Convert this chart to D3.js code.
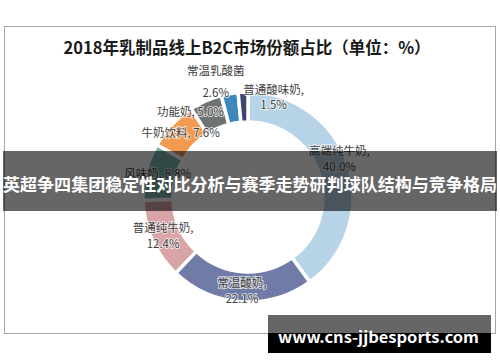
<!DOCTYPE html>
<html>
<head>
<meta charset="utf-8">
<script src="https://cdn.jsdelivr.net/npm/d3@7"></script>
<style>
  body { margin: 0; background: #fff; }
  text { font-family: "Noto Sans CJK SC", "Noto Sans", sans-serif; }
</style>
</head>
<body>
<svg id="canvas" width="500" height="362"></svg>
<script>
// data
let categories = ["高端纯牛奶", "常温酸奶", "普通纯牛奶", "风味奶", "牛奶饮料", "功能奶", "常温乳酸菌", "普通酸味奶"];
let shares = [40.0, 22.1, 12.4, 8.8, 7.6, 5.0, 2.6, 1.5];
let colors = ["#b6d3e7", "#717ba7", "#d9a4a6", "#7ab5af", "#f19a50", "#6e7371", "#3d87ba", "#3b4570"];
// label on one line or two
let twoLine = [true, true, true, false, false, false, true, true];

let title = "2018年乳制品线上B2C市场份额占比（单位：%）";
let banner = "英超争四集团稳定性对比分析与赛季走势研判球队结构与竞争格局";
let site = "www.cns-jjbesports.com";

let width = 500;
let height = 362;
let cx = 248, cy = 197;
let outerR = 105, innerR = 75;

// some labels are moved by hand like excel does: [dx, dy, second line gap]
let nudge = {
  "高端纯牛奶": [3, -10, 16],
  "功能奶": [-20, 0, 0],
  "常温乳酸菌": [-16, -27, 22],
  "普通酸味奶": [30, -7, 15]
};

let canvas = d3.select("#canvas");

// frame
canvas.append("rect")
  .attr("x", 4.5).attr("y", 26.5)
  .attr("width", 491).attr("height", 307)
  .attr("fill", "#fff")
  .attr("stroke", "#a6a6a6");

canvas.append("text")
  .attr("x", 247).attr("y", 54)
  .attr("text-anchor", "middle")
  .attr("font-size", 16.5)
  .attr("font-weight", "bold")
  .attr("fill", "#1a1a1a")
  .text(title);

let pie = d3.pie().sort(null).value(d => d.value);
let arcs = pie(categories.map((c, i) => ({ name: c, value: shares[i], color: colors[i], two: twoLine[i] })));

let arc = d3.arc().innerRadius(innerR).outerRadius(outerR);
let labelArc = d3.arc().innerRadius(93).outerRadius(93);

let g = canvas.append("g").attr("transform", `translate(${cx},${cy})`);

g.selectAll("path")
  .data(arcs)
  .enter()
  .append("path")
  .attr("d", arc)
  .attr("fill", d => d.data.color)
  .attr("stroke", "#fff")
  .attr("stroke-width", 3.5);

let labels = g.selectAll("text.lbl")
  .data(arcs)
  .enter()
  .append("text")
  .attr("class", "lbl")
  .attr("text-anchor", "middle")
  .attr("font-size", 11.5)
  .attr("fill", "#404040")
  .attr("stroke", "#fff")
  .attr("stroke-width", 2)
  .attr("stroke-opacity", 0.7)
  .attr("paint-order", "stroke")
  .attr("transform", d => {
    let p = labelArc.centroid(d);
    let n = nudge[d.data.name] || [0, 0];
    return `translate(${p[0] + n[0]},${p[1] + n[1]})`;
  });

labels.each(function (d) {
  let t = d3.select(this);
  let pct = d.data.value.toFixed(1) + "%";
  let sep = d.data.name === "常温乳酸菌" ? "" : ",";
  let n = nudge[d.data.name];
  let gap = n && n[2] ? n[2] : 16;
  if (d.data.two) {
    t.append("tspan").attr("x", 0).attr("y", -3).text(d.data.name + sep);
    t.append("tspan").attr("x", 0).attr("y", -3 + gap).text(pct);
  } else {
    t.append("tspan").attr("x", 0).attr("y", 4).text(d.data.name + ", " + pct);
  }
});

// banner over the chart
canvas.append("rect")
  .attr("x", 3).attr("y", 151)
  .attr("width", 494).attr("height", 60)
  .attr("fill", "#000")
  .attr("fill-opacity", 0.6);

canvas.append("text")
  .attr("x", 3).attr("y", 191)
  .attr("font-size", 17)
  .attr("font-weight", "bold")
  .attr("fill", "#fff")
  .attr("textLength", 494)
  .attr("lengthAdjust", "spacingAndGlyphs")
  .text(banner);

// site mark
canvas.append("rect")
  .attr("x", 268).attr("y", 315)
  .attr("width", 223).attr("height", 18)
  .attr("fill", "#666");
canvas.append("rect")
  .attr("x", 268).attr("y", 333)
  .attr("width", 223).attr("height", 20)
  .attr("fill", "#000");
canvas.append("text")
  .attr("x", 278).attr("y", 343)
  .attr("font-family", "DejaVu Sans")
  .attr("font-size", 15)
  .attr("font-weight", "bold")
  .attr("fill", "#fff")
  .attr("textLength", 201)
  .attr("lengthAdjust", "spacingAndGlyphs")
  .text(site);
</script>
</body>
</html>
